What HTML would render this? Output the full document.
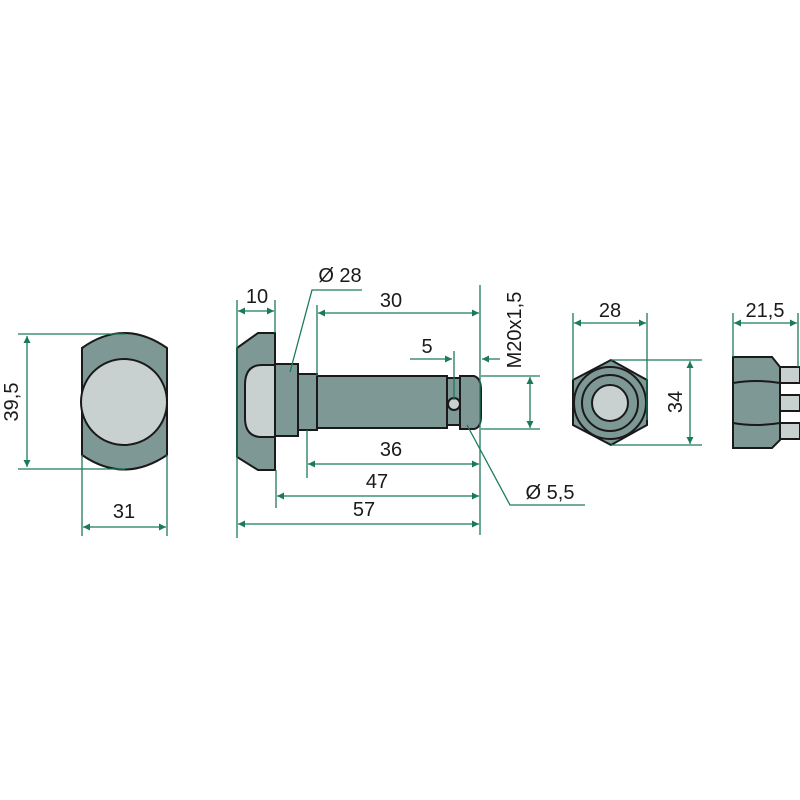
<!DOCTYPE html>
<html><head><meta charset="utf-8"><style>body{margin:0;background:#fff}svg{display:block}</style></head><body>
<svg width="800" height="800" viewBox="0 0 800 800" xmlns="http://www.w3.org/2000/svg">
<defs>
<marker id="a" viewBox="0 0 10 10" refX="10" refY="5" markerWidth="12" markerHeight="7" orient="auto-start-reverse" markerUnits="userSpaceOnUse"><path d="M0,0 L10,5 L0,10 z" fill="#1c7a5c"/></marker>
</defs>
<g fill="#7e9896" stroke="#1a1a1a" stroke-width="2">
<path d="M82,348 Q124,318 167,348 L167,455 Q124,484 82,455 Z"/>
<circle cx="124" cy="402" r="43" fill="#c8d1cf"/>
<path d="M237,348 L258,333 L275,333 L275,470 L258,470 L237,457 Z"/>
<path d="M275,365 L262,365 Q245,365 245,385 L245,418 Q245,437 262,437 L275,437 Z" fill="#c8d1cf"/>
<rect x="275" y="364" width="23" height="72"/>
<rect x="298" y="374" width="19" height="56"/>
<rect x="317" y="376" width="130" height="52"/>
<rect x="447" y="378" width="13" height="47"/>
<circle cx="454" cy="404" r="6" fill="#c8d1cf"/>
<path d="M460,376 L474,376 Q481,378 481,390 L481,416 Q481,428 474,429 L460,429 Z"/>
<path d="M611,360 L647,380 L647,425 L611,445 L573,425 L573,380 Z"/>
<circle cx="610" cy="403" r="36"/>
<circle cx="610" cy="403" r="28"/>
<circle cx="610" cy="403" r="18" fill="#c8d1cf"/>
<rect x="780" y="367" width="20" height="16" fill="#c8d1cf"/>
<rect x="780" y="395" width="20" height="16" fill="#c8d1cf"/>
<rect x="780" y="423" width="20" height="16" fill="#c8d1cf"/>
<path d="M733,357 L772,357 L780,367 L780,440 L772,448 L733,448 Z"/>
<path d="M733,383 Q756,379 780,383 M733,423 Q756,427 780,423" fill="none"/>
</g>
<g stroke="#1c7a5c" stroke-width="1.3" fill="none">
<line x1="18" y1="334" x2="125" y2="334"/><line x1="18" y1="469" x2="125" y2="469"/>
<line x1="27" y1="336" x2="27" y2="467" marker-start="url(#a)" marker-end="url(#a)"/>
<line x1="82" y1="455" x2="82" y2="536"/><line x1="167" y1="455" x2="167" y2="536"/>
<line x1="83" y1="527" x2="166" y2="527" marker-start="url(#a)" marker-end="url(#a)"/>
<line x1="237" y1="300" x2="237" y2="538"/><line x1="275" y1="300" x2="275" y2="333"/>
<line x1="238" y1="311" x2="274" y2="311" marker-start="url(#a)" marker-end="url(#a)"/>
<polyline points="290,372 312,290 362,290"/>
<line x1="317" y1="305" x2="317" y2="376"/><line x1="480" y1="285" x2="480" y2="535"/>
<line x1="318" y1="313" x2="479" y2="313" marker-start="url(#a)" marker-end="url(#a)"/>
<line x1="410" y1="359" x2="452" y2="359" marker-end="url(#a)"/>
<line x1="500" y1="359" x2="482" y2="359" marker-end="url(#a)"/>
<line x1="454" y1="351" x2="454" y2="400"/>
<line x1="481" y1="376" x2="540" y2="376"/><line x1="481" y1="429" x2="540" y2="429"/>
<line x1="530" y1="377" x2="530" y2="428" marker-start="url(#a)" marker-end="url(#a)"/>
<line x1="307" y1="430" x2="307" y2="478"/>
<line x1="308" y1="464" x2="479" y2="464" marker-start="url(#a)" marker-end="url(#a)"/>
<line x1="276" y1="470" x2="276" y2="508"/>
<line x1="277" y1="496" x2="479" y2="496" marker-start="url(#a)" marker-end="url(#a)"/>
<line x1="238" y1="524" x2="479" y2="524" marker-start="url(#a)" marker-end="url(#a)"/>
<polyline points="467,425 510,505 585,505"/>
<line x1="573" y1="313" x2="573" y2="380"/><line x1="647" y1="313" x2="647" y2="420"/>
<line x1="574" y1="323" x2="646" y2="323" marker-start="url(#a)" marker-end="url(#a)"/>
<line x1="611" y1="360" x2="702" y2="360"/><line x1="611" y1="445" x2="702" y2="445"/>
<line x1="690" y1="361" x2="690" y2="444" marker-start="url(#a)" marker-end="url(#a)"/>
<line x1="733" y1="313" x2="733" y2="357"/><line x1="798" y1="313" x2="798" y2="367"/>
<line x1="734" y1="323" x2="797" y2="323" marker-start="url(#a)" marker-end="url(#a)"/>
</g>
<g font-family="Liberation Sans, sans-serif" font-size="20" fill="#1a1a1a" text-anchor="middle">
<text x="12" y="402" transform="rotate(-90 12 402)" dominant-baseline="central">39,5</text>
<text x="124" y="518">31</text>
<text x="257" y="303">10</text>
<text x="340" y="282">Ø 28</text>
<text x="391" y="307">30</text>
<text x="427" y="353">5</text>
<text x="515" y="330" transform="rotate(-90 515 330)" dominant-baseline="central">M20x1,5</text>
<text x="391" y="456">36</text>
<text x="377" y="488">47</text>
<text x="364" y="516">57</text>
<text x="550" y="499">Ø 5,5</text>
<text x="610" y="317">28</text>
<text x="676" y="402" transform="rotate(-90 676 402)" dominant-baseline="central">34</text>
<text x="765" y="317">21,5</text>
</g>
</svg>
</body></html>
